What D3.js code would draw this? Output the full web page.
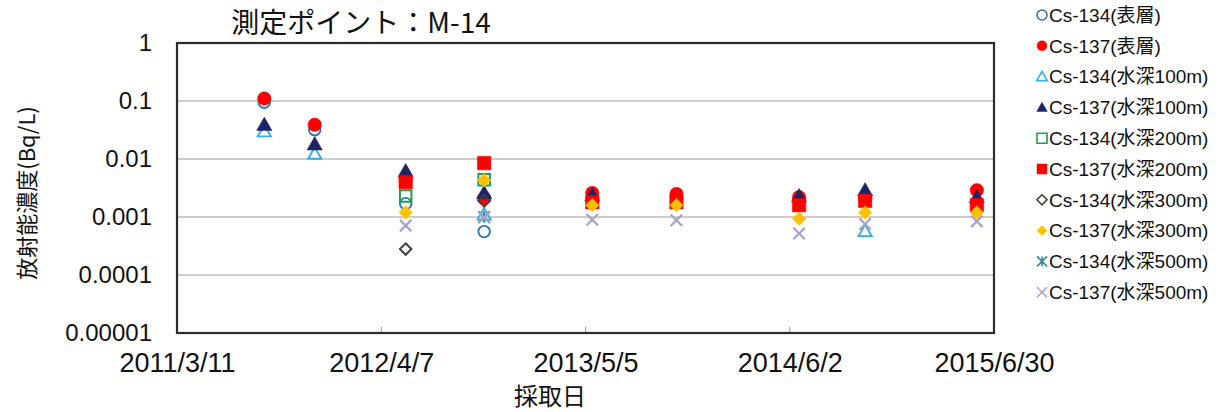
<!DOCTYPE html>
<html><head><meta charset="utf-8">
<script src="https://cdn.jsdelivr.net/npm/d3@7"></script>
<style>body{margin:0;background:#fff}svg{display:block}</style>
</head><body><svg id="c" width="1218" height="412"></svg>
<script>
const sampleDates = ["2011-08-26","2011-12-01","2012-05-24","2012-10-22","2013-05-18","2013-10-27","2014-06-20","2014-10-25","2015-05-28"];
const tickLabels = ["2011/3/11","2012/4/7","2013/5/5","2014/6/2","2015/6/30"];
const yTickValues = [1,0.1,0.01,0.001,0.0001,0.00001];
const yTickLabels = ["1","0.1","0.01","0.001","0.0001","0.00001"];
const seriesNames = ["Cs-134(表層)","Cs-137(表層)","Cs-134(水深100m)","Cs-137(水深100m)","Cs-134(水深200m)","Cs-137(水深200m)","Cs-134(水深300m)","Cs-137(水深300m)","Cs-134(水深500m)","Cs-137(水深500m)"];
const cs134Surface = [0.095,0.032,0.0017,0.00056,null,null,null,null,null];
const cs137Surface = [0.11,0.039,0.0045,0.0021,0.0026,0.0025,0.0022,0.0021,0.0029];
const cs134_100m = [0.030,0.0123,null,0.0011,null,null,null,0.00057,null];
const cs137_100m = [0.039,0.018,0.0062,0.0026,0.0024,null,0.0023,0.0029,0.0022];
const cs134_200m = [null,null,0.0023,0.0044,null,null,null,null,null];
const cs137_200m = [null,null,0.0040,0.0085,0.0018,0.0018,0.0016,0.0019,0.0016];
const cs134_300m = [null,null,0.00028,0.0019,null,null,null,null,null];
const cs137_300m = [null,null,0.0012,0.0043,0.0016,0.0016,0.00093,0.0012,0.0012];
const cs134_500m = [null,null,null,0.0010,null,null,null,null,null];
const cs137_500m = [null,null,0.00071,0.00098,0.0009,0.00088,0.00052,0.00076,0.00084];

const seriesValues = [cs134Surface,cs137Surface,cs134_100m,cs137_100m,cs134_200m,cs137_200m,cs134_300m,cs137_300m,cs134_500m,cs137_500m];

const styles = [
 {shape:"circle",fill:"none",stroke:"#2e75b6"},
 {shape:"circle",fill:"#ff0000",stroke:"#ff0000"},
 {shape:"triangle",fill:"none",stroke:"#33aee8"},
 {shape:"triangle",fill:"#1a2466",stroke:"#1a2466"},
 {shape:"square",fill:"none",stroke:"#18a050"},
 {shape:"square",fill:"#ff0000",stroke:"#ff0000"},
 {shape:"diamond",fill:"none",stroke:"#404040"},
 {shape:"diamond",fill:"#ffc000",stroke:"#ffc000"},
 {shape:"asterisk",fill:"none",stroke:"#2e8b96"},
 {shape:"x",fill:"none",stroke:"#aaa2cc"}
];

const L=177,R=994,T=43,B=333;
const parse = d3.timeParse("%Y-%m-%d");
const parse2 = d3.timeParse("%Y/%m/%d");
const x = d3.scaleTime().domain([parse2("2011/3/11"),parse2("2015/6/30")]).range([L,R]);
const y = d3.scaleLog().domain([1e-5,1]).range([B,T]);
const svg = d3.select("#c");
const latin = "'Liberation Sans', Arial, sans-serif";
const mixed = "'Liberation Sans', 'Noto Sans CJK JP', sans-serif";
const cjk = "'Noto Sans CJK JP', sans-serif";

// gridlines
svg.append("g").selectAll("line").data(yTickValues.slice(1,-1)).join("line")
 .attr("x1",L).attr("x2",R).attr("y1",d=>y(d)).attr("y2",d=>y(d))
 .attr("stroke","#bdbdbd").attr("stroke-width",1.5);

// inner x ticks
const tickDates = tickLabels.map(s=>parse2(s));
svg.append("g").selectAll("line").data(tickDates.slice(1,-1)).join("line")
 .attr("x1",d=>x(d)).attr("x2",d=>x(d)).attr("y1",B).attr("y2",B-6)
 .attr("stroke","#999").attr("stroke-width",1);

// frame
svg.append("rect").attr("x",L).attr("y",T).attr("width",R-L).attr("height",B-T)
 .attr("fill","none").attr("stroke","#2b2b2b").attr("stroke-width",2.2);

// axes labels via d3 axes
const xAxis = d3.axisBottom(x).tickValues(tickDates).tickFormat((d,i)=>tickLabels[i]).tickSize(0).tickPadding(20);
const gx = svg.append("g").attr("transform",`translate(0,${B})`).call(xAxis);
gx.select(".domain").remove();
gx.selectAll("text").attr("font-family",latin).attr("font-size",27).attr("fill","#111");

const yAxis = d3.axisLeft(y).tickValues(yTickValues).tickFormat((d,i)=>yTickLabels[i]).tickSize(0).tickPadding(25);
const gy = svg.append("g").attr("transform",`translate(${L},0)`).call(yAxis);
gy.select(".domain").remove();
gy.selectAll("text").attr("font-family",latin).attr("font-size",24).attr("fill","#111");

// symbols
function shapePath(shape, s){
  const h=s/2;
  switch(shape){
    case "circle": return d3.arc()({innerRadius:0,outerRadius:h,startAngle:0,endAngle:2*Math.PI});
    case "square": return `M${-h},${-h}H${h}V${h}H${-h}Z`;
    case "triangle": return `M0,${-h*1.05}L${h*1.05},${h*0.8}L${-h*1.05},${h*0.8}Z`;
    case "diamond": return `M0,${-h}L${h},0L0,${h}L${-h},0Z`;
    case "x": return `M${-h},${-h}L${h},${h}M${h},${-h}L${-h},${h}`;
    case "asterisk": return `M${-h},${-h}L${h},${h}M${h},${-h}L${-h},${h}M0,${-h}V${h}`;
  }
}
const sizes={circle:13.5,square:13.5,triangle:14.5,diamond:13.5,x:13.5,asterisk:13.5};
const widths={circle:1.9,square:2,triangle:1.9,diamond:2,x:2.2,asterisk:2};

const pts = svg.append("g");
seriesValues.forEach((vals,si)=>{
  const st=styles[si];
  const data = vals.map((v,i)=>({v,d:parse(sampleDates[i])})).filter(p=>p.v!=null);
  const open = st.fill==="none";
  pts.append("g").selectAll("path").data(data).join("path")
   .attr("transform",p=>`translate(${x(p.d)},${y(p.v)})`)
   .attr("d",shapePath(st.shape, open? sizes[st.shape]-2 : sizes[st.shape]))
   .attr("fill",st.fill).attr("stroke",st.stroke)
   .attr("stroke-width",open?widths[st.shape]:0.5);
});

// title
svg.append("text").attr("x",361).attr("y",33).attr("text-anchor","middle")
 .attr("font-family",cjk).attr("font-size",28).attr("fill","#111").text("測定ポイント：M-14");

// axis titles
svg.append("text").attr("x",550).attr("y",405).attr("text-anchor","middle")
 .attr("font-family",cjk).attr("font-size",24).attr("fill","#111").text("採取日");
svg.append("text").attr("transform","translate(35,193) rotate(-90)").attr("text-anchor","middle")
 .attr("font-family",cjk).attr("font-size",22).attr("fill","#111").text("放射能濃度(Bq/L)");

// legend
const lg = svg.append("g");
seriesNames.forEach((n,i)=>{
  const st=styles[i]; const yy=15+i*30.8;
  const open = st.fill==="none";
  lg.append("path").attr("transform",`translate(1042,${yy})`)
   .attr("d",shapePath(st.shape, 10)).attr("fill",st.fill).attr("stroke",st.stroke)
   .attr("stroke-width",open?1.6:0.5);
  lg.append("text").attr("x",1049).attr("y",yy).attr("dy","0.36em")
   .attr("font-family",mixed).attr("font-size",19).attr("fill","#111").text(n);
});
</script></body></html>
